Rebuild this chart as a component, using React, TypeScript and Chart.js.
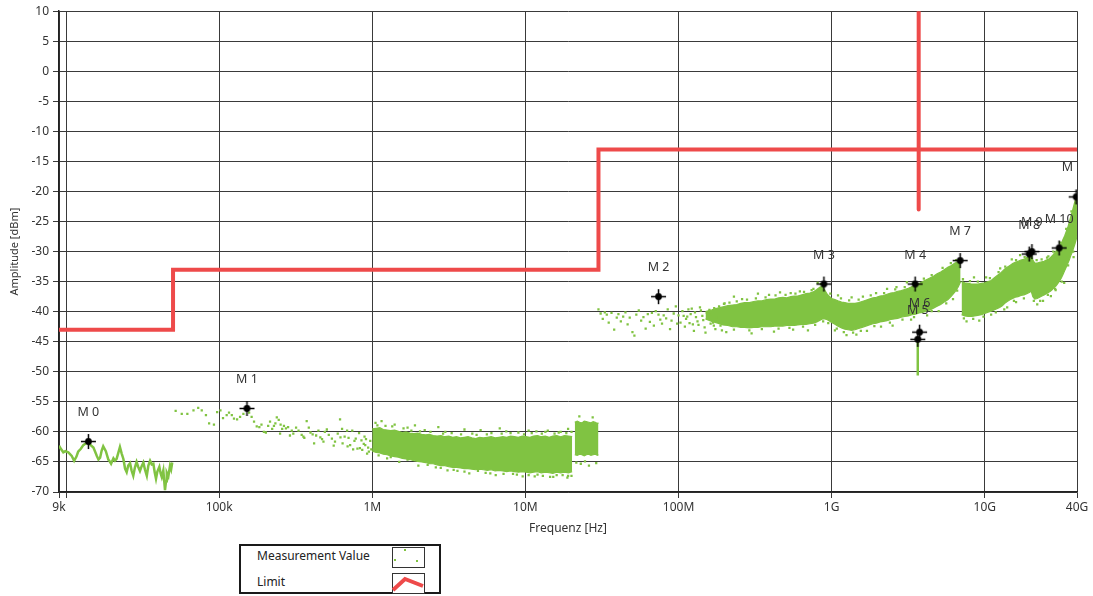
import React, { useEffect, useRef } from 'react';
import { Chart, registerables } from 'chart.js';

Chart.register(...registerables);

const GREEN = '#80C342';
const RED = '#EE4A4A';
const FONT = "'Noto Sans', 'DejaVu Sans', sans-serif";

// ---- axis ticks ----
const xTickValues = [9e3, 1e4, 1e5, 1e6, 1e7, 1e8, 1e9, 1e10, 4e10];
const xTickLabels = ['9k', '', '100k', '1M', '10M', '100M', '1G', '10G', '40G'];

// ---- limit line ----
const limitSteps: [number, number][] = [
  [9e3, -43], [50e3, -43], [50e3, -33], [30e6, -33], [30e6, -13], [4e10, -13],
];
const limitSpike: [number, number][] = [[3.7e9, 10], [3.7e9, -23]];

// ---- measurement: low-frequency trace (9k - 50k) ----
const traceLow: [number, number][] = [
  [9000, -62.3], [9300, -62.9], [9600, -63.4], [9900, -63.2], [10350, -63.4], [10900, -64], [11300, -64.8],
  [11700, -64.1], [12000, -63.3], [12500, -62.8], [12970, -62.2], [13500, -61.9], [14000, -61.6], [14500, -62.2],
  [15100, -62.6], [15500, -63.3], [15900, -64], [16300, -64.6], [16700, -64.3], [17100, -63.1], [17500, -62.4],
  [18200, -63.2], [18900, -64.6], [19300, -64.9], [19700, -65.3], [20400, -64.4], [20900, -64.8], [21400, -64.5],
  [22000, -63.4], [22500, -62.5], [23100, -63.6], [23700, -64.5], [24300, -66.1], [24900, -66.7], [25500, -65.6],
  [26200, -65.2], [26800, -66.4], [27500, -67.3], [28200, -65.9], [28900, -65], [29600, -65.8], [30400, -66.5],
  [31200, -65.7], [32000, -65.1], [32800, -66.3], [33700, -67.3], [34500, -65.6], [35400, -64.8], [36300, -65.4],
  [37200, -65.3], [38000, -66.8], [38700, -67.8], [39500, -66.6], [40700, -65.8], [41500, -66.9], [42200, -67.5],
  [43200, -66.4], [44300, -69.7], [45000, -68.2], [45500, -66.8], [46600, -67.4], [47800, -65.6], [48600, -66.2],
  [49400, -65.1],
];

// ---- measurement: narrow spike near 3.65 GHz ----
const traceSpike: [number, number][] = [[3.65e9, -44.6], [3.65e9, -50.6]];

// ---- measurement: scattered single readings ----
const scatterDots: [number, number][] = [
  [52e3, -56.5], [57e3, -57], [62e3, -57], [68e3, -56.4], [73e3, -56], [77e3, -56.4], [82e3, -57.2], [86e3, -58.6],
  [92.5e3, -58.8], [97e3, -56.7], [102e3, -56.4], [106e3, -57.7], [112e3, -57.2], [116e3, -56.8], [121e3, -57.2],
  [125e3, -57.8], [131e3, -57.9], [137e3, -57.5], [144e3, -57], [157e3, -56.8], [163e3, -57.5], [169e3, -58.3],
  [176e3, -59.1], [183e3, -59.2], [189e3, -58.8], [196e3, -60], [202e3, -60.1], [209e3, -59], [215e3, -58.3],
  [222e3, -59.5], [228e3, -59], [233e3, -58.6], [238e3, -57.6], [245e3, -58], [252e3, -58.8], [258e3, -59.5],
  [265e3, -59], [273e3, -59.4], [282e3, -59.2], [298e3, -59.8], [305e3, -60.3], [318e3, -59.3], [330e3, -59.8],
  [346e3, -60.5], [355e3, -60.8], [373e3, -58.2], [385e3, -59.3], [395e3, -60.1], [408e3, -60.4], [417e3, -61.9],
  [430e3, -60.6], [445e3, -59.8], [458e3, -60.9], [470e3, -61.2], [490e3, -60], [505e3, -59.6], [520e3, -60.5],
  [545e3, -61.1], [571e3, -61.6], [595e3, -60.3], [616e3, -57.9], [635e3, -59.5], [660e3, -60.8], [685e3, -59.8],
  [700e3, -61], [717e3, -62.2], [740e3, -59.8], [765e3, -61.5], [800e3, -62.8], [820e3, -60.2], [850e3, -61.4],
  [880e3, -62], [910e3, -61.2], [940e3, -62.6], [970e3, -61.5], [250e3, -60.3], [290e3, -60.6], [360e3, -61],
  [480e3, -61.6], [560e3, -62.3], [640e3, -61.9], [750e3, -62.9], [860e3, -63], [950e3, -63.3], [620e3, -60.9],
  [690e3, -62.4], [780e3, -61.1], [830e3, -62.7], [900e3, -62.2], [925e3, -63.6], [985e3, -62.9], [890e3, -60.8],
  [30e6, -39.6], [31e6, -40.3], [32e6, -41.2], [33e6, -40.1], [34e6, -40.5], [35e6, -41.8], [36.5e6, -40.2],
  [38e6, -43], [39.5e6, -41], [40.5e6, -40.4], [42e6, -41.6], [43.5e6, -40.8], [45e6, -40.1], [46.5e6, -42.1],
  [48e6, -41], [50e6, -43.4], [51.5e6, -44], [53e6, -40.5], [55e6, -39.8], [57e6, -41.5], [59e6, -40.9],
  [61e6, -42.8], [63e6, -40.4], [65e6, -41.7], [67e6, -40.2], [69e6, -42.3], [71e6, -39.9], [74e6, -40.5],
  [76e6, -41.3], [78e6, -42], [80e6, -40.6], [83e6, -41.1], [85e6, -39.6], [88e6, -42.9], [90e6, -41.5],
  [93e6, -40.3], [96e6, -39.1], [98e6, -42], [100e6, -40.6], [103e6, -41.8], [106e6, -39.9], [108e6, -40.7],
  [110e6, -42.5], [112e6, -41.2], [114e6, -40.8], [116e6, -39.6], [118e6, -41.9], [120e6, -40.4], [122e6, -39.5],
  [124e6, -42.1], [126e6, -43.2], [128e6, -40.1], [130e6, -40.9], [133e6, -41.6], [135e6, -42.2], [138e6, -39.3],
  [140e6, -39.8], [143e6, -40.7], [145e6, -41.4], [148e6, -42.6], [150e6, -43.5], [153e6, -40.2], [156e6, -41.1],
  [159e6, -39.7], [162e6, -42], [165e6, -40.5], [168e6, -41.8], [171e6, -39.4], [174e6, -42.9], [177e6, -40.9],
  [180e6, -41.6], [184e6, -39.1], [188e6, -42.3], [192e6, -43.1], [198e6, -38.7], [205e6, -43.4], [215e6, -38.5],
  [1.15e6, -58.2], [1.4e6, -58.8], [1.7e6, -59.3], [2.2e6, -59.7], [3e6, -60], [4.5e6, -60.3], [6e6, -60.2],
  [7.5e6, -59.9], [9e6, -60.1], [10.5e6, -59.8], [14e6, -59.8], [17e6, -60], [19e6, -59.5], [1.5e6, -65],
  [2.6e6, -65.9], [3.6e6, -66.5], [5.5e6, -66.8], [8.3e6, -67], [12e6, -67.1], [16e6, -67.2], [19e6, -67.3],
  [23e6, -65.3], [26e6, -65.6], [29e6, -65.2], [22.5e6, -57.4], [27.5e6, -57.6], [1.05e6, -58.5], [1.9e6, -58.9],
  [2.7e6, -59.2], [4e6, -59.6], [5.1e6, -59.7], [6.8e6, -59.4], [11.8e6, -59.9], [1.25e6, -64.4], [2e6, -65.6],
  [3.1e6, -66.4], [4.3e6, -66.9], [6.4e6, -67.2], [9.6e6, -67.4], [14.5e6, -67.5], [24.5e6, -64.9], [21.5e6, -65.1],
  [1.08e6, -58.9], [1.22e6, -59.0], [1.35e6, -59.1], [1.6e6, -59.4], [1.8e6, -59.8], [2.05e6, -59.9], [2.4e6, -60.0],
  [2.9e6, -60.3], [3.3e6, -60.2], [3.8e6, -60.4], [4.8e6, -60.5], [5.6e6, -60.4], [7e6, -60.3], [8e6, -60.2],
  [9.8e6, -60.4], [11e6, -60.2], [12.8e6, -60.3], [13.5e6, -60.0], [15.5e6, -60.3], [16.5e6, -60.1], [18.5e6, -60.2],
  [20e6, -60.0], [1.1e6, -63.9], [1.32e6, -64.2], [1.7e6, -64.6], [2.3e6, -65.5], [2.8e6, -66.0], [3.4e6, -66.3],
  [4e6, -66.6], [4.9e6, -66.5], [5.9e6, -66.9], [7.2e6, -67.0], [8.8e6, -67.1], [10.5e6, -67.2], [11.5e6, -67.4],
  [13e6, -67.3], [15.2e6, -67.5], [17.5e6, -67.2], [18.8e6, -67.6], [20e6, -67.3],
  [230e6, -37.5], [330e6, -37], [460e6, -36.8], [620e6, -36.6], [810e6, -35.2], [1.35e9, -37.6], [2.3e9, -36.2],
  [3.1e9, -35.1], [300e6, -43.6], [700e6, -43.1], [1.25e9, -43.9], [1.7e9, -43.2], [2.5e9, -42.3], [5e9, -39.9],
  [6.2e9, -37.9], [8.5e9, -34.3], [12.6e9, -32.8], [17e9, -30.6], [9.2e9, -41.5], [14e9, -39.3], [22e9, -38.8],
  [27e9, -37.4], [33e9, -35.2], [38e9, -30.9], [260e6, -37.9], [390e6, -37.2], [540e6, -36.9], [760e6, -36.2],
  [1.1e9, -37.3], [1.6e9, -37.5], [1.95e9, -36.9], [2.65e9, -35.9], [420e6, -43.3], [560e6, -43], [1.05e9, -43.1],
  [1.45e9, -43.8], [2.1e9, -42.5], [3.3e9, -41.3], [4.2e9, -40.6], [7.6e9, -41.6], [11e9, -40.5], [16e9, -38.4],
  [24e9, -38.2], [29e9, -36.4], [10.2e9, -34.3], [15e9, -31.3], [26e9, -30.8],
  [200e6, -38.6], [240e6, -38.3], [280e6, -38.0], [320e6, -37.8], [370e6, -37.6], [430e6, -37.3], [500e6, -37.2],
  [580e6, -37.0], [660e6, -36.7], [740e6, -36.4], [850e6, -35.4], [980e6, -37.0], [1.15e9, -37.8], [1.3e9, -38.1],
  [1.5e9, -38.0], [1.8e9, -37.3], [2.2e9, -36.9], [2.6e9, -36.3], [3.0e9, -35.9], [3.4e9, -35.3], [4.0e9, -34.5],
  [4.5e9, -33.9], [5.3e9, -32.7], [6.0e9, -31.9], [6.5e9, -31.4], [170e6, -42.3], [230e6, -43.0], [290e6, -43.1],
  [350e6, -42.9], [450e6, -42.8], [530e6, -42.7], [650e6, -42.5], [780e6, -42.2], [880e6, -41.6], [950e6, -41.9],
  [1.08e9, -42.8], [1.2e9, -43.4], [1.38e9, -43.5], [1.55e9, -43.2], [1.9e9, -42.4], [2.4e9, -41.8], [2.9e9, -41.3],
  [3.45e9, -40.9], [4.5e9, -39.9], [5.6e9, -38.6], [6.6e9, -36.5],
  [7.2e9, -34.6], [8e9, -34.9], [9e9, -35.0], [10.8e9, -34.4], [12.3e9, -33.4], [13.6e9, -32.5], [16e9, -31.4],
  [18.2e9, -30.9], [19.8e9, -30.1], [21.8e9, -31.4], [23.5e9, -31.3], [25.5e9, -31.0], [28e9, -30.0], [31e9, -28.5],
  [34e9, -26.2], [36.8e9, -23.3], [7.3e9, -41.1], [8.4e9, -41.2], [9.8e9, -40.8], [11.8e9, -40.1], [13.4e9, -39.6],
  [15.5e9, -38.2], [18e9, -37.8], [20.9e9, -38.2], [23e9, -38.2], [25.8e9, -37.2], [28.8e9, -36.2], [31.8e9, -35.0],
  [35e9, -32.3], [37.8e9, -30.0],
];

// ---- measurement: dense bands (upper / lower envelope) ----
const band1Freq = [1.0e6, 1.06e6, 1.12e6, 1.18e6, 1.25e6, 1.32e6, 1.4e6, 1.48e6, 1.57e6, 1.66e6, 1.76e6, 1.87e6,
  1.98e6, 2.1e6, 2.23e6, 2.36e6, 2.5e6, 2.65e6, 2.81e6, 2.98e6, 3.16e6, 3.35e6, 3.55e6, 3.76e6, 3.98e6, 4.22e6,
  4.47e6, 4.74e6, 5.02e6, 5.32e6, 5.64e6, 5.98e6, 6.34e6, 6.72e6, 7.12e6, 7.55e6, 8.0e6, 8.48e6, 8.99e6, 9.53e6,
  10.1e6, 10.7e6, 11.3e6, 12.0e6, 12.7e6, 13.5e6, 14.3e6, 15.1e6, 16.0e6, 17.0e6, 18.0e6, 19.1e6, 20.2e6];
const band1Top = [-59.5, -59.4, -59.3, -59.6, -59.7, -59.8, -59.7, -59.9, -60.1, -60.0, -60.2, -60.3, -60.2, -60.4,
  -60.5, -60.4, -60.6, -60.7, -60.6, -60.8, -60.7, -60.9, -60.8, -61.0, -60.9, -60.8, -61.0, -61.1, -60.9, -61.0,
  -60.9, -60.8, -61.0, -60.9, -60.8, -60.9, -60.7, -60.8, -60.9, -60.7, -60.8, -60.9, -60.7, -60.6, -60.8, -60.7,
  -60.9, -60.7, -60.6, -60.8, -60.6, -60.7, -60.8];
const band1Bottom = [-63.2, -63.4, -63.5, -63.7, -63.8, -64.0, -64.1, -64.2, -64.4, -64.5, -64.6, -64.8, -64.9, -65.0,
  -65.1, -65.3, -65.3, -65.5, -65.6, -65.6, -65.8, -65.9, -65.9, -66.0, -66.1, -66.1, -66.2, -66.3, -66.2, -66.3,
  -66.4, -66.3, -66.5, -66.4, -66.5, -66.6, -66.5, -66.6, -66.7, -66.6, -66.7, -66.8, -66.7, -66.6, -66.8, -66.7,
  -66.8, -66.9, -66.7, -66.8, -66.7, -66.8, -66.6];

const band2Freq = [21e6, 21.8e6, 22.6e6, 23.4e6, 24.2e6, 25e6, 25.9e6, 26.8e6, 27.7e6, 28.6e6, 29.5e6, 30e6];
const band2Top = [-58.4, -58.2, -58.4, -58.5, -58.2, -58.3, -58.4, -58.5, -58.3, -58.4, -58.6, -58.5];
const band2Bottom = [-63.8, -63.9, -63.7, -63.8, -64.0, -63.8, -63.7, -63.9, -63.8, -63.7, -63.9, -63.8];

const band3Freq = [150e6, 165e6, 180e6, 195e6, 210e6, 225e6, 240e6, 255e6, 270e6, 290e6, 310e6, 330e6, 350e6, 375e6,
  400e6, 425e6, 450e6, 480e6, 510e6, 540e6, 570e6, 600e6, 640e6, 680e6, 720e6, 760e6, 800e6, 840e6, 870e6, 900e6,
  930e6, 960e6, 1.0e9, 1.05e9, 1.1e9, 1.16e9, 1.22e9, 1.28e9, 1.35e9, 1.42e9, 1.5e9, 1.58e9, 1.67e9, 1.76e9, 1.86e9,
  1.96e9, 2.07e9, 2.18e9, 2.3e9, 2.43e9, 2.56e9, 2.7e9, 2.85e9, 3.0e9, 3.17e9, 3.35e9, 3.53e9, 3.72e9, 3.93e9, 4.15e9,
  4.38e9, 4.62e9, 4.88e9, 5.15e9, 5.43e9, 5.73e9, 6.05e9, 6.38e9, 6.7e9, 6.95e9];
const band3Top = [-40.0, -39.7, -39.4, -39.2, -39.0, -38.9, -38.8, -38.6, -38.5, -38.5, -38.3, -38.2, -38.2, -38.0,
  -37.9, -37.9, -37.7, -37.6, -37.7, -37.5, -37.4, -37.4, -37.2, -37.0, -36.9, -36.7, -36.3, -35.9, -35.8, -36.4,
  -37.0, -37.4, -37.8, -38.0, -38.2, -38.4, -38.5, -38.6, -38.6, -38.6, -38.5, -38.3, -38.1, -37.9, -37.7, -37.6,
  -37.4, -37.3, -37.1, -36.9, -36.8, -36.6, -36.5, -36.3, -36.1, -35.8, -35.6, -35.3, -35.0, -34.7, -34.4, -34.1,
  -33.7, -33.4, -33.0, -32.6, -32.3, -31.9, -31.7, -31.3];
const band3Bottom = [-41.2, -41.6, -41.9, -42.2, -42.3, -42.5, -42.5, -42.6, -42.6, -42.7, -42.6, -42.6, -42.5, -42.5,
  -42.5, -42.4, -42.4, -42.4, -42.3, -42.3, -42.3, -42.2, -42.1, -42.1, -42.0, -41.9, -41.7, -41.4, -41.2, -41.2,
  -41.3, -41.5, -41.8, -42.1, -42.4, -42.7, -42.9, -43.0, -43.1, -43.0, -42.8, -42.6, -42.4, -42.2, -42.0, -41.9,
  -41.7, -41.6, -41.5, -41.3, -41.2, -41.1, -40.9, -40.8, -40.7, -40.5, -40.4, -40.2, -40.1, -39.9, -39.7, -39.4,
  -39.1, -38.8, -38.4, -38.0, -37.4, -36.7, -35.9, -35.0];

const band4Freq = [7.05e9, 7.4e9, 7.8e9, 8.2e9, 8.6e9, 9.0e9, 9.5e9, 10e9, 10.5e9, 11e9, 11.5e9, 12e9, 12.5e9, 13e9,
  13.5e9, 14e9, 14.6e9, 15.2e9, 15.8e9, 16.5e9, 17.2e9, 18e9, 18.8e9, 19.5e9, 20.1e9, 20.6e9, 21.2e9, 22e9, 22.8e9,
  23.6e9, 24.4e9, 25.2e9, 26e9, 26.8e9, 27.6e9, 28.4e9, 29.2e9, 30e9, 30.8e9, 31.6e9, 32.4e9, 33.2e9, 34e9, 34.8e9,
  35.6e9, 36.4e9, 37.2e9, 38e9, 38.8e9, 39.5e9, 40e9];
const band4Top = [-35.0, -35.2, -35.3, -35.4, -35.4, -35.4, -35.3, -35.2, -35.0, -34.8, -34.4, -34.0, -33.7, -33.3,
  -32.9, -32.6, -32.3, -32.0, -31.8, -31.6, -31.4, -31.3, -31.0, -30.7, -30.5, -31.4, -31.9, -31.9, -31.8, -31.7,
  -31.6, -31.4, -31.3, -31.0, -30.7, -30.3, -29.9, -29.5, -29.1, -28.6, -28.0, -27.4, -26.7, -26.0, -25.1, -24.2,
  -23.4, -22.5, -21.6, -20.9, -20.4];
const band4Bottom = [-40.5, -40.7, -40.8, -40.8, -40.7, -40.6, -40.5, -40.3, -40.1, -39.9, -39.7, -39.5, -39.3, -39.0,
  -38.6, -38.3, -38.0, -37.8, -37.6, -37.5, -37.3, -37.2, -37.0, -36.8, -36.6, -37.5, -37.9, -37.8, -37.6, -37.4,
  -37.2, -37.0, -36.8, -36.6, -36.3, -36.0, -35.7, -35.3, -34.9, -34.4, -33.8, -33.2, -32.6, -32.0, -31.4, -30.7,
  -30.1, -29.4, -28.7, -28.0, -27.4];

// ---- markers ----
const markerFreq = [14e3, 152e3, 74e6, 890e6, 3.51e9, 3.65e9, 3.75e9, 6.9e9, 19.5e9, 20.3e9, 30.6e9, 39.5e9];
const markerVal = [-61.6, -56.1, -37.5, -35.4, -35.4, -44.6, -43.4, -31.5, -30.4, -30.0, -29.4, -20.9];
const markerLabels = ['M 0', 'M 1', 'M 2', 'M 3', 'M 4', 'M 5', 'M 6', 'M 7', 'M 8', 'M 9', 'M 10', 'M 11'];

const pairs = (p: [number, number][]) => p.map(([x, y]) => ({ x, y }));
const zip = (xs: number[], ys: number[]) => xs.map((x, i) => ({ x, y: ys[i] }));

function makeMarkerImage() {
  const c = document.createElement('canvas');
  c.width = 17;
  c.height = 17;
  const g = c.getContext('2d')!;
  g.strokeStyle = '#000';
  g.lineWidth = 1.5;
  g.beginPath();
  g.moveTo(1, 8.5); g.lineTo(16, 8.5);
  g.moveTo(8.5, 1); g.lineTo(8.5, 16);
  g.stroke();
  g.fillStyle = '#000';
  g.beginPath();
  g.arc(8.5, 8.5, 3.4, 0, Math.PI * 2);
  g.fill();
  return c;
}

const markerLabelPlugin = {
  id: 'markerLabels',
  afterDatasetsDraw(chart: any) {
    const meta = chart.getDatasetMeta(0);
    const { ctx, chartArea } = chart;
    ctx.save();
    ctx.beginPath();
    ctx.rect(chartArea.left, chartArea.top, chartArea.right - chartArea.left, chartArea.bottom - chartArea.top);
    ctx.clip();
    ctx.font = `12.5px ${FONT}`;
    ctx.fillStyle = '#333';
    ctx.textAlign = 'center';
    ctx.textBaseline = 'middle';
    meta.data.forEach((pt: any, i: number) => {
      ctx.fillText(markerLabels[i], pt.x, pt.y - 29);
    });
    ctx.restore();
  },
};

function bandPair(xs: number[], top: number[], bottom: number[]) {
  return [
    {
      data: zip(xs, top), showLine: true, fill: '+1', backgroundColor: GREEN, borderColor: GREEN,
      borderWidth: 1.2, pointRadius: 0,
    },
    {
      data: zip(xs, bottom), showLine: true, fill: false, borderColor: GREEN, borderWidth: 1.2, pointRadius: 0,
    },
  ];
}

export default function App() {
  const ref = useRef<HTMLCanvasElement>(null);

  useEffect(() => {
    const canvas = ref.current!;
    const markerImg = makeMarkerImage();
    const gridColor = '#3a3a3a';
    const tickFont = { family: FONT, size: 12 };

    const chart = new Chart(canvas, {
      type: 'line',
      data: {
        datasets: [
          {
            data: zip(markerFreq, markerVal), showLine: false, pointStyle: markerImg as any, pointRadius: 8,
          },
          {
            data: pairs(limitSteps), showLine: true, borderColor: RED, borderWidth: 4, pointRadius: 0,
            borderJoinStyle: 'miter', borderCapStyle: 'butt', fill: false,
          },
          {
            data: pairs(limitSpike), showLine: true, borderColor: RED, borderWidth: 4, pointRadius: 0,
            borderCapStyle: 'round', fill: false,
          },
          {
            data: pairs(traceLow), showLine: true, borderColor: GREEN, borderWidth: 2.5, pointRadius: 0, fill: false,
          },
          {
            data: pairs(traceSpike), showLine: true, borderColor: GREEN, borderWidth: 2.5, pointRadius: 0, fill: false,
          },
          {
            data: pairs(scatterDots), showLine: false, pointStyle: 'rect', pointRadius: 1.6,
            pointBackgroundColor: GREEN, pointBorderWidth: 0, fill: false,
          },
          ...bandPair(band1Freq, band1Top, band1Bottom),
          ...bandPair(band2Freq, band2Top, band2Bottom),
          ...bandPair(band3Freq, band3Top, band3Bottom),
          ...bandPair(band4Freq, band4Top, band4Bottom),
        ] as any,
      },
      options: {
        animation: false,
        responsive: false,
        maintainAspectRatio: false,
        events: [],
        layout: { padding: { left: 0, right: 16, top: 10, bottom: 0 } },
        plugins: { legend: { display: false }, tooltip: { enabled: false } },
        elements: { line: { tension: 0 } },
        scales: {
          x: {
            type: 'logarithmic',
            min: 9e3,
            max: 4e10,
            afterBuildTicks: (scale: any) => {
              scale.ticks = xTickValues.map((v) => ({ value: v }));
            },
            afterFit: (scale: any) => {
              scale.height = 48;
            },
            ticks: {
              autoSkip: false,
              maxRotation: 0,
              padding: 2,
              color: '#333',
              font: tickFont,
              callback: (_v: any, i: number) => xTickLabels[i],
            },
            grid: { color: gridColor, lineWidth: 1, tickLength: 6, drawTicks: true },
            border: { color: '#222', width: 1.5 },
            title: {
              display: true, text: 'Frequenz [Hz]', color: '#333', font: tickFont,
              padding: { top: 0, bottom: 4 },
            },
          },
          y: {
            type: 'linear',
            min: -70,
            max: 10,
            afterFit: (scale: any) => {
              scale.width = 59;
            },
            ticks: { stepSize: 5, padding: 4, color: '#333', font: tickFont },
            grid: { color: gridColor, lineWidth: 1, tickLength: 6, drawTicks: true },
            border: { color: '#222', width: 1.5 },
            title: {
              display: true, text: 'Amplitude [dBm]', color: '#333', font: { family: FONT, size: 11 },
              padding: { top: 8, bottom: 0 },
            },
          },
        },
      } as any,
      plugins: [markerLabelPlugin],
    });
    return () => chart.destroy();
  }, []);

  const textStyle: React.CSSProperties = {
    position: 'absolute', fontFamily: FONT, fontSize: 12, color: '#222', lineHeight: '14px', whiteSpace: 'nowrap',
  };

  return (
    <div style={{ position: 'absolute', left: 0, top: 0, width: 1093, height: 596, background: '#fff', overflow: 'hidden' }}>
      <canvas ref={ref} width={1093} height={540} style={{ position: 'absolute', left: 0, top: 0, width: 1093, height: 540 }} />
      <div style={{ position: 'absolute', left: 239, top: 544, width: 202, height: 50, border: '2px solid #1a1a1a', boxSizing: 'border-box' }} />
      <div style={{ ...textStyle, left: 257, top: 549 }}>Measurement Value</div>
      <div style={{ ...textStyle, left: 257, top: 575 }}>Limit</div>
      <svg style={{ position: 'absolute', left: 392, top: 547 }} width={33} height={21}>
        <rect x={0.5} y={0.5} width={32} height={20} fill="#fff" stroke="#333" strokeWidth={1} />
        <rect x={2} y={12} width={2} height={2} fill={GREEN} />
        <rect x={12} y={2} width={2} height={2} fill={GREEN} />
        <rect x={24} y={13} width={2} height={2} fill={GREEN} />
      </svg>
      <svg style={{ position: 'absolute', left: 392, top: 573 }} width={33} height={21}>
        <rect x={0.5} y={0.5} width={32} height={20} fill="#fff" stroke="#333" strokeWidth={1} />
        <polyline points="1,17 13,6 31,13" fill="none" stroke={RED} strokeWidth={4} strokeLinejoin="miter" />
      </svg>
    </div>
  );
}
